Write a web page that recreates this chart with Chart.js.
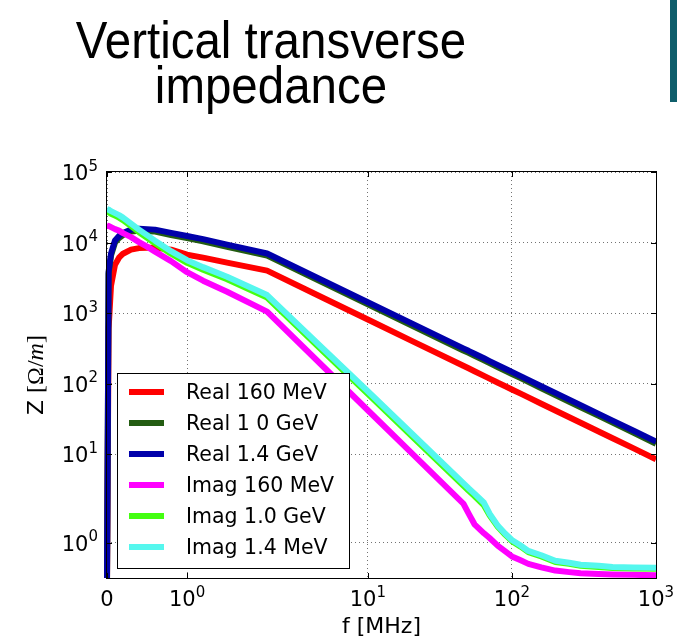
<!DOCTYPE html>
<html>
<head>
<meta charset="utf-8">
<script src="https://cdn.jsdelivr.net/npm/chart.js@4.4.0/dist/chart.umd.min.js"></script>
<style>
  html, body { margin: 0; padding: 0; background: #fff; }
  body { width: 677px; height: 642px; position: relative; overflow: hidden; }
  #title {
    position: absolute; left: 21px; top: 18px; width: 500px;
    text-align: center; color: #000; white-space: nowrap;
    font-family: 'Liberation Sans', Arial, sans-serif;
    font-size: 52px; line-height: 45px;
    transform: scaleX(0.913);
  }
  #bar { position: absolute; left: 670px; top: 0; width: 7px; height: 102px; background: #0f5e6b; }
  canvas { position: absolute; left: 0; top: 0; }
</style>
</head>
<body>
<div id="title">Vertical transverse<br>impedance</div>
<div id="bar"></div>
<canvas id="impedanceChart" width="677" height="642"></canvas>
<script>
// frequency grid [MHz]
const freq = [0, 0.02, 0.05, 0.1, 0.15, 0.2, 0.3, 0.4, 0.5, 0.6, 0.8, 1, 1.2, 1.5, 2,
  5, 10, 20, 46, 50, 55, 64, 70, 80, 90, 100, 115, 130, 160, 200, 250, 300, 400, 500, 700, 1000];

// Z [Ohm/m]
const real160 = [0, 600, 2450, 4860, 6100, 6950, 7930, 8340, 8470, 8470, 7930, 6730, 6110, 5190, 4000,
  1610, 811, 408, 179, 165, 150, 129, 118, 103, 92, 82.8, 72.2, 63.9, 52, 41.7, 33.4, 27.9, 21, 16.8, 12.1, 8.47];
const real10 = [0, 3600, 6500, 10000, 11600, 12800, 14300, 14700, 14500, 14300, 12800, 11600, 10450, 8720, 6550,
  2650, 1335, 673, 295, 273, 248, 214, 195, 171, 152, 137, 120, 106, 86, 69, 55.4, 46.4, 34.9, 28, 20.1, 14.1];
const real14 = [0, 3870, 6950, 10700, 12400, 13700, 15250, 15740, 15500, 15250, 13700, 12400, 11170, 9330, 7000,
  2830, 1428, 720, 316, 292, 265, 229, 209, 183, 163, 147, 128, 113, 92, 74, 59.3, 49.6, 37.3, 29.9, 21.5, 15.1];
const imag160 = [17380, 17200, 16530, 15500, 14770, 13590, 11940, 10140, 8750, 7430, 5450, 3800, 2880, 2010, 1050,
  168, 42, 10.5, 2.0, 1.75, 1.47, 1.24, 1.12, 0.92, 0.78, 0.65, 0.55, 0.46, 0.37, 0.29, 0.25, 0.22, 0.2, 0.19, 0.18, 0.17];
const imag10 = [27400, 26950, 25630, 24040, 22520, 20740, 17060, 14030, 11720, 9790, 6950, 5170, 4120, 3020, 1660,
  276, 72, 18.4, 3.6, 3.05, 2.55, 1.95, 1.7, 1.4, 1.2, 1.04, 0.9, 0.76, 0.65, 0.51, 0.46, 0.41, 0.38, 0.355, 0.345, 0.335];
const imag14 = [29780, 29300, 27860, 26130, 24480, 22540, 18540, 15250, 12740, 10640, 7550, 5620, 4480, 3280, 1800,
  300, 78, 20, 3.9, 3.3, 2.76, 2.05, 1.74, 1.43, 1.23, 1.07, 0.93, 0.79, 0.68, 0.54, 0.49, 0.44, 0.41, 0.38, 0.37, 0.36];

const seriesLabels = ['Real 160 MeV', 'Real 1 0 GeV', 'Real 1.4 GeV', 'Imag 160 MeV', 'Imag 1.0 GeV', 'Imag 1.4 MeV'];
const seriesValues = [real160, real10, real14, imag160, imag10, imag14];
const seriesColors = ['#ff0000', '#235c12', '#0000aa', '#ff00ff', '#44ff11', '#55f7ee'];

const xTicks = [0, 1, 10, 100, 1000];
const yTicks = [1, 10, 100, 1000, 10000, 100000];

const FONT = '"DejaVu Sans", sans-serif';
Chart.defaults.font.family = FONT;
Chart.defaults.color = '#000';

// symmetric log: linear inside +-LINTHRESH, log10 outside
const LINTHRESH = 2;
const LINSPAN = 1 / (1 - 1 / 10);

function symlog(v) {
  const a = Math.abs(v);
  const s = a <= LINTHRESH ? a / LINTHRESH * LINSPAN : LINSPAN + Math.log10(a / LINTHRESH);
  return v < 0 ? -s : s;
}

function symlogInv(s) {
  const a = Math.abs(s);
  const v = a <= LINSPAN ? a / LINSPAN * LINTHRESH : LINTHRESH * Math.pow(10, a - LINSPAN);
  return s < 0 ? -v : v;
}

class SymlogScale extends Chart.Scale {
  parse(raw) {
    return raw === null || raw === undefined ? null : +raw;
  }
  determineDataLimits() {
    const { min, max } = this.getMinMax(false);
    this.min = min;
    this.max = max;
  }
  buildTicks() {
    return [];
  }
  getLabelForValue(value) {
    return String(value);
  }
  configure() {
    super.configure();
    this._lo = symlog(this.min);
    this._span = symlog(this.max) - this._lo;
  }
  getPixelForValue(value) {
    if (value === null || value === undefined || isNaN(value)) return NaN;
    return this.getPixelForDecimal((symlog(value) - this._lo) / this._span);
  }
  getValueForPixel(pixel) {
    return symlogInv(this._lo + this.getDecimalForPixel(pixel) * this._span);
  }
}
SymlogScale.id = 'symlog';
SymlogScale.defaults = {};
Chart.register(SymlogScale);

function powerParts(v) {
  if (v === 0) return ['0', ''];
  return ['10', String(Math.round(Math.log10(v)))];
}

// axes frame, inward tick marks and the legend box
const framePlugin = {
  id: 'frame',
  afterDatasetsDraw(chart) {
    const { ctx, chartArea: a, scales } = chart;
    ctx.save();
    ctx.strokeStyle = '#000';
    ctx.lineWidth = 1;
    ctx.strokeRect(a.left - 0.5, a.top - 0.5, a.right - a.left + 1, a.bottom - a.top + 1);
    ctx.beginPath();
    scales.x.ticks.forEach(t => {
      const px = Math.round(scales.x.getPixelForValue(t.value)) + 0.5;
      ctx.moveTo(px, a.bottom); ctx.lineTo(px, a.bottom - 5);
      ctx.moveTo(px, a.top); ctx.lineTo(px, a.top + 5);
    });
    scales.y.ticks.forEach(t => {
      const py = Math.round(scales.y.getPixelForValue(t.value)) + 0.5;
      ctx.moveTo(a.left, py); ctx.lineTo(a.left + 5, py);
      ctx.moveTo(a.right, py); ctx.lineTo(a.right - 5, py);
    });
    ctx.stroke();

    const lx = a.left + 10, ly = a.top + 201, lw = 232, lh = 195;
    ctx.fillStyle = '#fff';
    ctx.fillRect(lx, ly, lw, lh);
    ctx.strokeStyle = '#000';
    ctx.strokeRect(lx + 0.5, ly + 0.5, lw, lh);
    ctx.font = '20.5px ' + FONT;
    ctx.textBaseline = 'alphabetic';
    ctx.textAlign = 'left';
    chart.data.datasets.forEach((ds, i) => {
      const ry = ly + 19 + i * 31;
      ctx.strokeStyle = ds.borderColor;
      ctx.lineWidth = 6;
      ctx.lineCap = 'butt';
      ctx.beginPath();
      ctx.moveTo(lx + 12, ry);
      ctx.lineTo(lx + 47, ry);
      ctx.stroke();
      ctx.fillStyle = '#000';
      ctx.fillText(ds.label, lx + 69, ry + 7);
    });
    ctx.restore();
  }
};

// 10^n tick labels and the y axis title
const labelPlugin = {
  id: 'powerLabels',
  afterDraw(chart) {
    const { ctx, chartArea: a, scales } = chart;
    const base = '21px ' + FONT, sup = '15px ' + FONT;
    ctx.save();
    ctx.fillStyle = '#000';
    ctx.textAlign = 'left';
    ctx.textBaseline = 'alphabetic';

    scales.x.ticks.forEach(t => {
      const [b, e] = powerParts(t.value);
      ctx.font = base;
      const wb = ctx.measureText(b).width;
      ctx.font = sup;
      const we = e ? ctx.measureText(e).width : 0;
      const x0 = scales.x.getPixelForValue(t.value) - (wb + we) / 2;
      ctx.font = base;
      ctx.fillText(b, x0, a.bottom + 28);
      if (e) {
        ctx.font = sup;
        ctx.fillText(e, x0 + wb, a.bottom + 19);
      }
    });

    const right = a.left - 9;
    scales.y.ticks.forEach(t => {
      const [b, e] = powerParts(t.value);
      const py = scales.y.getPixelForValue(t.value);
      ctx.font = base;
      const wb = ctx.measureText(b).width;
      ctx.font = sup;
      const we = ctx.measureText(e).width;
      ctx.font = base;
      ctx.fillText(b, right - we - wb, py + 8);
      ctx.font = sup;
      ctx.fillText(e, right - we, py - 1.5);
    });

    const parts = [
      ['Z ', '22px ' + FONT],
      ['[', '24px "Liberation Serif", serif'],
      ['\u03A9', '24px "Liberation Serif", serif'],
      ['/', '24px "Liberation Serif", serif'],
      ['m', 'italic 24px "Liberation Serif", serif'],
      [']', '24px "Liberation Serif", serif']
    ];
    let total = 0;
    parts.forEach(p => { ctx.font = p[1]; p.push(ctx.measureText(p[0]).width); total += p[2]; });
    ctx.translate(43, (a.top + a.bottom) / 2);
    ctx.rotate(-Math.PI / 2);
    let x = -total / 2;
    parts.forEach(p => { ctx.font = p[1]; ctx.fillText(p[0], x, 0); x += p[2]; });
    ctx.restore();
  }
};

const gridStyle = { color: 'rgba(0,0,0,0.55)', lineWidth: 1, drawTicks: false };
const borderStyle = { display: false, dash: [1, 3] };

new Chart(document.getElementById('impedanceChart').getContext('2d'), {
  type: 'line',
  data: {
    labels: freq,
    datasets: seriesValues.map((values, i) => ({
      label: seriesLabels[i],
      data: values,
      borderColor: seriesColors[i],
      backgroundColor: seriesColors[i],
      borderWidth: 6,
      pointRadius: 0,
      tension: 0,
      fill: false,
      order: seriesValues.length - i,
      clip: { left: 3, top: 0, right: 0, bottom: 0 }
    }))
  },
  options: {
    responsive: false,
    animation: false,
    devicePixelRatio: 1,
    layout: { padding: { left: 10, right: 21, top: 172, bottom: 0 } },
    elements: { line: { borderCapStyle: 'butt', borderJoinStyle: 'round' } },
    plugins: { legend: { display: false }, tooltip: { enabled: false } },
    scales: {
      x: {
        type: 'symlog',
        min: 0,
        max: 1000,
        afterBuildTicks: s => { s.ticks = xTicks.map(v => ({ value: v })); },
        afterFit: s => { s.height = 64; },
        ticks: { display: false },
        grid: gridStyle,
        border: borderStyle,
        title: { display: true, text: 'f [MHz]', font: { size: 22 }, color: '#000', padding: { top: 0, bottom: 2 } }
      },
      y: {
        type: 'symlog',
        min: 0.1,
        max: 100000,
        afterBuildTicks: s => { s.ticks = yTicks.map(v => ({ value: v })); },
        afterFit: s => { s.width = 97; },
        ticks: { display: false },
        grid: gridStyle,
        border: borderStyle
      }
    }
  },
  plugins: [framePlugin, labelPlugin]
});
</script>
</body>
</html>
